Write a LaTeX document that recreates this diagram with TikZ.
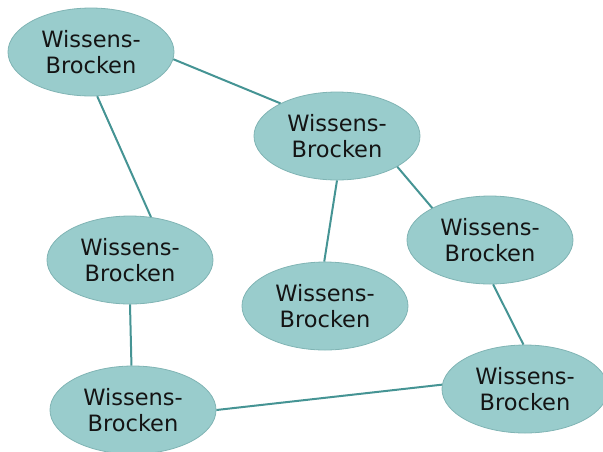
\documentclass[tikz,border=0pt]{standalone}
\usepackage{fontspec}
\setmainfont{DejaVu Sans}
\usetikzlibrary{shapes.geometric}
\definecolor{chunkfill}{HTML}{99CCCC}
\definecolor{chunkedge}{HTML}{80B4B4}
\definecolor{linkcol}{HTML}{459494}
\definecolor{txtcol}{HTML}{141414}
\tikzset{
  chunk/.style={ellipse, fill=chunkfill, draw=chunkedge, line width=0.8pt,
    minimum width=166pt, minimum height=88pt, inner sep=0pt,
    align=center, text=txtcol,
    font=\fontsize{22.5pt}{26pt}\selectfont},
  link/.style={draw=linkcol, line width=2pt}
}
\begin{document}
\begin{tikzpicture}[x=1pt,y=-1pt]
\useasboundingbox (0,0) rectangle (603,451);
\node[chunk] (A) at (91,52) {Wissens-\\Brocken};
\node[chunk] (B) at (337,136) {Wissens-\\Brocken};
\node[chunk] (C) at (490,240) {Wissens-\\Brocken};
\node[chunk] (D) at (130,260) {Wissens-\\Brocken};
\node[chunk] (E) at (325,306) {Wissens-\\Brocken};
\node[chunk] (F) at (133,410) {Wissens-\\Brocken};
\node[chunk] (G) at (525,389) {Wissens-\\Brocken};
\draw[link] (A.-5) -- (B.150);
\draw[link] (A.-82) -- (D.64);
\draw[link] (B.-90) -- (E.91);
\draw[link] (B.-27) -- (C.151);
\draw[link] (D.-90) -- (F.92);
\draw[link] (F.0) -- (G.177);
\draw[link] (C.-86) -- (G.92);
\end{tikzpicture}
\end{document}
